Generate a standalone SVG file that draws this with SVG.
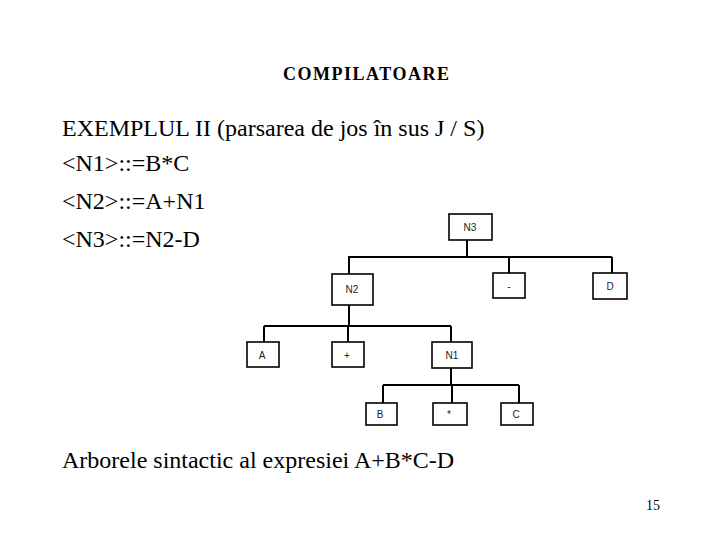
<svg xmlns="http://www.w3.org/2000/svg" width="720" height="540" viewBox="0 0 720 540">
<style>
.t{font-family:"Liberation Serif","Times New Roman",serif;fill:#000}
.big{font-size:24px}
.box{fill:#fff;stroke:#000;stroke-width:1.6}
.lbl{font-family:"Liberation Sans",Arial,sans-serif;font-size:10px;fill:#222;text-anchor:middle}
.ln{stroke:#000;stroke-width:2;fill:none}
</style>
<rect width="720" height="540" fill="#fff"/>
<text class="t" x="366" y="80" font-size="18" font-weight="bold" text-anchor="middle" textLength="166" lengthAdjust="spacing">COMPILATOARE</text>
<text class="t big" x="62" y="136">EXEMPLUL II (parsarea de jos în sus J / S)</text>
<text class="t big" x="62" y="171">&lt;N1&gt;::=B*C</text>
<text class="t big" x="62" y="209">&lt;N2&gt;::=A+N1</text>
<text class="t big" x="62" y="247">&lt;N3&gt;::=N2-D</text>
<text class="t big" x="62" y="468">Arborele sintactic al expresiei A+B*C-D</text>
<text class="t" x="660" y="510" font-size="14" text-anchor="end">15</text>
<g id="connectors">
<path class="ln" d="M467 240V257M348 257H612M349 257V274M509 257V273M612 257V273"/>
<path class="ln" d="M349 305V326M264 326H451M264 326V342M348 326V342M451 326V342"/>
<path class="ln" d="M451 368V385M383 385H519M383 385V403M452 385V403M519 385V403"/>
</g>
<g id="n3"><rect class="box" x="449" y="214" width="43" height="26"/><text class="lbl" x="470" y="231">N3</text></g>
<g id="n2"><rect class="box" x="332" y="274" width="41" height="31"/><text class="lbl" x="352" y="293">N2</text></g>
<g id="minus"><rect class="box" x="493" y="273" width="32" height="25"/><text class="lbl" x="509" y="290">-</text></g>
<g id="d"><rect class="box" x="593" y="273" width="34" height="26"/><text class="lbl" x="610" y="290">D</text></g>
<g id="a"><rect class="box" x="247" y="342" width="32" height="25"/><text class="lbl" x="262" y="359">A</text></g>
<g id="plus"><rect class="box" x="332" y="342" width="32" height="25"/><text class="lbl" x="347" y="359">+</text></g>
<g id="n1"><rect class="box" x="432" y="342" width="40" height="26"/><text class="lbl" x="452" y="359">N1</text></g>
<g id="b"><rect class="box" x="366" y="403" width="31" height="22"/><text class="lbl" x="380" y="418">B</text></g>
<g id="star"><rect class="box" x="433" y="403" width="34" height="22"/><text class="lbl" x="449" y="418">*</text></g>
<g id="c"><rect class="box" x="501" y="403" width="32" height="22"/><text class="lbl" x="516" y="418">C</text></g>
</svg>
